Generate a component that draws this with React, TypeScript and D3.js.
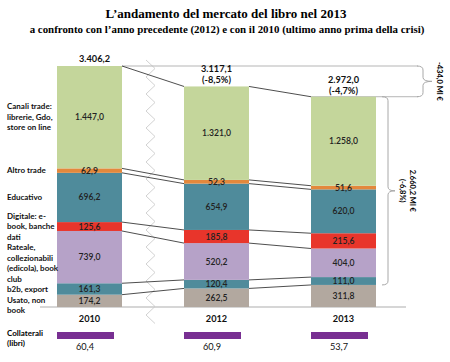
import React from 'react';
import * as d3 from 'd3';

// anni e valori (milioni di euro), dal basso verso l'alto
const years = ['2010', '2012', '2013'];
const segmentNames = ['usato', 'b2b', 'rateale', 'digitale', 'educativo', 'altro', 'canali'];
const usato = [174.2, 262.5, 311.8];
const b2b = [161.3, 120.4, 111.0];
const rateale = [739.0, 520.2, 404.0];
const digitale = [125.6, 185.8, 215.6];
const educativo = [696.2, 654.9, 620.0];
const altro = [62.9, 52.3, 51.6];
const canali = [1447.0, 1321.0, 1258.0];
const totals = [3406.2, 3117.1, 2972.0];
const totalChanges = ['', '(-8,5%)', '(-4,7%)'];
const collaterali = [60.4, 60.9, 53.7];

const segmentLabels: string[][] = [
  ['Usato, non', 'book'],
  ['b2b, export'],
  ['Rateale,', 'collezionabili', '(edicola), book', 'club'],
  ['Digitale: e-', 'book, banche', 'dati'],
  ['Educativo'],
  ['Altro trade'],
  ['Canali trade:', 'librerie, Gdo,', 'store on line'],
];
const colors = ['#b2a89f', '#4f8b9b', '#b6a2c8', '#e8352b', '#4f8b9b', '#e3883c', '#c4d69b'];

const diffTotal = '-434,0 Ml €';
const diffNoUsato = ['2.660,2 Ml €', '(-6,8%)'];

const series = [usato, b2b, rateale, digitale, educativo, altro, canali];

const itFormat = d3.formatLocale({ decimal: ',', thousands: '.', grouping: [3], currency: ['', ' €'] }).format(',.1f');

const W = 450;
const H = 362;
const barW = 65;
const font = 'Lato, "Open Sans", sans-serif';

const brace = (x: number, y0: number, y1: number, tip: number) => {
  const r = 4;
  const m = (y0 + y1) / 2;
  return `M${x - 6},${y0} Q${x},${y0} ${x},${y0 + r} L${x},${m - r} Q${x},${m} ${x + tip},${m}` +
    ` Q${x},${m} ${x},${m + r} L${x},${y1 - r} Q${x},${y1} ${x - 6},${y1}`;
};

export default function App() {
  const x = d3.scalePoint<string>().domain(years).range([89.5, 343.5]);
  const y = d3.scaleLinear().domain([0, totals[0]]).range([307, 66]);

  // cumulative stacks per year
  const stacks = years.map((_, i) => {
    let acc = 0;
    return series.map((s) => {
      const y0 = acc;
      acc += s[i];
      return { y0, y1: acc, v: s[i] };
    });
  });

  // left labels centred on 2010 segments, pushed down to avoid overlaps
  const lh = 10.5;
  let lastLine = -Infinity;
  const leftLabels: { text: string; y: number }[] = [];
  for (let k = segmentNames.length - 1; k >= 0; k--) {
    const seg = stacks[0][k];
    const lines = segmentLabels[k];
    const c = y((seg.y0 + seg.y1) / 2);
    let first = c - ((lines.length - 1) * lh) / 2;
    if (first < lastLine + lh) first = lastLine + lh;
    lines.forEach((t, j) => leftLabels.push({ text: t, y: first + j * lh }));
    lastLine = first + (lines.length - 1) * lh;
  }

  const left = (i: number) => (x(years[i]) as number) - barW / 2;
  const right = (i: number) => left(i) + barW;

  // zigzag break between 2010 and 2012
  const zig: [number, number][] = d3.range(0, 32).map((j) => [j % 2 ? 155 : 146, 60 + j * 8.5]);

  const y2013 = y(totals[2]);
  const yUsato2013 = y(usato[2]);

  return (
    <svg width={W} height={H} style={{ position: 'absolute', left: 0, top: 0, background: '#fff' }}>
      <text x={226} y={18} textAnchor="middle" fontFamily='"Liberation Serif", serif' fontWeight="bold" fontSize={13}>
        L’andamento del mercato del libro nel 2013
      </text>
      <text x={227} y={33} textAnchor="middle" fontFamily='"Liberation Serif", serif' fontWeight="bold" fontSize={10.9}>
        a confronto con l’anno precedente (2012) e con il 2010 (ultimo anno prima della crisi)
      </text>

      <path d={d3.line()(zig) as string} fill="none" stroke="#d2d2d2" strokeWidth={1} />

      {/* brace lines */}
      <line x1={right(0)} x2={418} y1={y(totals[0])} y2={y(totals[0])} stroke="#b5b5b5" />
      <line x1={left(2)} x2={418} y1={y2013} y2={y2013} stroke="#b5b5b5" />
      <path d={brace(423, y(totals[0]), y2013, 9)} fill="none" stroke="#a8a8a8" />
      <path d={brace(388, y2013, yUsato2013, 7)} fill="none" stroke="#a8a8a8" />

      {/* baseline */}
      <line x1={40} x2={406} y1={y(0)} y2={y(0)} stroke="#c8c8c8" strokeWidth={1.5} />

      {years.map((yr, i) =>
        stacks[i].map((s, k) => (
          <rect key={yr + k} x={left(i)} width={barW} y={y(s.y1)} height={y(s.y0) - y(s.y1)} fill={colors[k]} />
        ))
      )}

      {/* connectors */}
      {[0, 1].map((i) =>
        stacks[i].map((s, k) => (
          <line key={'c' + i + k} x1={right(i)} x2={left(i + 1)} y1={y(s.y1)} y2={y(stacks[i + 1][k].y1)}
            stroke="#3a3a3a" strokeWidth={0.9} />
        ))
      )}

      {years.map((yr, i) =>
        stacks[i].map((s, k) => (
          <text key={'v' + yr + k} x={x(yr)} y={y((s.y0 + s.y1) / 2)} dy="0.35em" textAnchor="middle"
            fontFamily={font} fontSize={8.6} fontWeight={600} fill="#222">
            {itFormat(s.v)}
          </text>
        ))
      )}

      {years.map((yr, i) => (
        <g key={'t' + yr} fontFamily={font} fontWeight="bold" fontSize={9.2} textAnchor="middle" fill="#111">
          <text x={(x(yr) as number) + (i === 0 ? 5 : 0)} y={y(totals[i]) - (i === 0 ? 4 : 14)}>{itFormat(totals[i])}</text>
          {totalChanges[i] && <text x={x(yr)} y={y(totals[i]) - 3}>{totalChanges[i]}</text>}
          <text x={x(yr)} y={322}>{yr}</text>
        </g>
      ))}

      {leftLabels.map((l, j) => (
        <text key={'l' + j} x={7} y={l.y} dy="0.35em" fontFamily={font} fontWeight="bold" fontSize={8} fill="#111">
          {l.text}
        </text>
      ))}

      <text x={7} y={333} dy="0.35em" fontFamily={font} fontWeight="bold" fontSize={8}>Collaterali</text>
      <text x={7} y={343} dy="0.35em" fontFamily={font} fontWeight="bold" fontSize={8}>(libri)</text>
      {years.map((yr, i) => (
        <g key={'col' + yr}>
          <rect x={left(i)} y={332} width={57} height={7} fill="#782f92" />
          <text x={left(i) + 28} y={350} textAnchor="middle" fontFamily={font} fontSize={9.2} fill="#111">
            {itFormat(collaterali[i])}
          </text>
        </g>
      ))}

      <text transform={`translate(437,${(y(totals[0]) + y2013) / 2}) rotate(90)`} textAnchor="middle"
        fontFamily={font} fontWeight="bold" fontSize={7.5}>{diffTotal}</text>
      {diffNoUsato.map((t, j) => (
        <text key={'d' + j} transform={`translate(${410 - j * 10},${(y2013 + yUsato2013) / 2}) rotate(90)`}
          textAnchor="middle" fontFamily={font} fontWeight="bold" fontSize={7.5}>{t}</text>
      ))}
    </svg>
  );
}
